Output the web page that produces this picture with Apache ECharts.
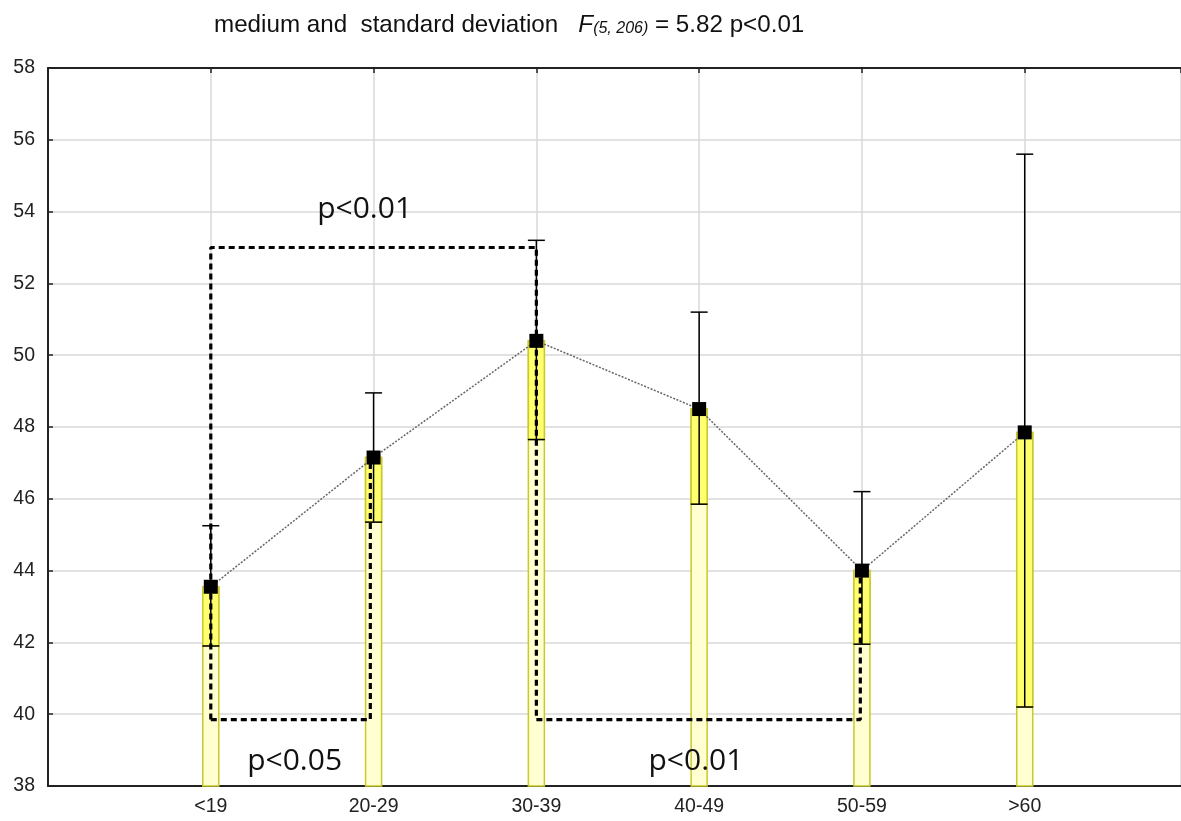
<!DOCTYPE html>
<html>
<head>
<meta charset="utf-8">
<script src="https://cdn.jsdelivr.net/npm/echarts@6/dist/echarts.min.js"></script>
<style>html,body{margin:0;padding:0;background:#fff}#c{width:1181px;height:821px}</style>
</head>
<body>
<div id="c"></div>
<script>
// ---- data ----
var categories = ['<19', '20-29', '30-39', '40-49', '50-59', '>60'];
var means = [43.55, 47.15, 50.4, 48.5, 44.0, 47.85];
var upper = [45.25, 48.95, 53.2, 51.2, 46.2, 55.6];
var lower = [41.9, 45.35, 47.65, 45.85, 41.95, 40.2];
var yTicks = [38, 40, 42, 44, 46, 48, 50, 52, 54, 56, 58];
// significance brackets: [categoryIndex (1-based), value] vertices
var bracketTop = [[1, 39.85], [1, 53.0], [3, 53.0], [3, 39.85]];
var bracketLeft = [[1, 39.85], [1.98, 39.85], [1.98, 47.15]];
var bracketRight = [[3, 39.85], [4.99, 39.85], [4.99, 44.0]];
var annotations = [
  {text: 'p<0.01', x: 1.945, y: 54.05},
  {text: 'p<0.05', x: 1.515, y: 38.67},
  {text: 'p<0.01', x: 3.98, y: 38.67}
];

var chart = echarts.init(document.getElementById('c'));
var BAR_W = 16;

var idx = categories.map(function (c, i) { return i + 1; });
var barData = idx.map(function (x, i) { return [x, means[i], lower[i], upper[i]]; });
var meanPts = idx.map(function (x, i) { return [x, means[i]]; });

function pathSeries(pts) {
  return {
    type: 'line', data: pts, symbol: 'none', silent: true, z: 4,
    lineStyle: {color: '#000', width: 3.2, type: [6, 4]}, animation: false
  };
}

var FONT = 'Liberation Sans, Arial';

chart.setOption({
  animation: false,
  title: {
    left: 209, top: 4,
    text: '{a|medium and  standard deviation   }{f|F}{s|(5, 206)}{a| = 5.82 p<0.01}',
    textStyle: {
      fontWeight: 'normal',
      rich: {
        a: {fontFamily: FONT, fontSize: 24.2, fontWeight: 'normal', color: '#111', verticalAlign: 'bottom', lineHeight: 28},
        f: {fontFamily: FONT, fontSize: 24.2, fontWeight: 'normal', fontStyle: 'italic', color: '#111', verticalAlign: 'bottom', lineHeight: 28},
        s: {fontFamily: FONT, fontSize: 16, fontWeight: 'normal', fontStyle: 'italic', color: '#111', verticalAlign: 'bottom', lineHeight: 24}
      }
    }
  },
  grid: {left: 48, top: 68, right: 0, height: 718, containLabel: false},
  xAxis: [{
    type: 'value', min: 0, max: 6.96, interval: 1,
    axisLine: {show: true, lineStyle: {color: '#222', width: 2}},
    axisTick: {show: true, inside: true, length: 5, lineStyle: {color: '#222', width: 1.5}},
    splitLine: {show: true, lineStyle: {color: '#d9d9d9', width: 1.5}},
    axisLabel: {
      color: '#222', fontFamily: FONT, fontSize: 19.5, margin: 11, showMaxLabel: false,
      formatter: function (v) { return (v >= 1 && v <= categories.length && v === Math.round(v)) ? categories[v - 1] : ''; }
    }
  }, {
    type: 'value', min: 0, max: 6.96, interval: 1, position: 'top',
    axisLine: {show: true, lineStyle: {color: '#222', width: 2}},
    axisTick: {show: true, inside: true, length: 5, lineStyle: {color: '#222', width: 1.5}},
    axisLabel: {show: false}, splitLine: {show: false}
  }],
  yAxis: {
    type: 'value', min: 38, max: 58, interval: 2,
    axisLine: {show: true, lineStyle: {color: '#222', width: 2}},
    axisTick: {show: true, inside: true, length: 5, lineStyle: {color: '#222', width: 1.5}},
    splitLine: {show: true, lineStyle: {color: '#d9d9d9', width: 1.5}},
    axisLabel: {color: '#222', fontFamily: FONT, fontSize: 19.5, margin: 13,
      formatter: function (v) { return yTicks.indexOf(v) >= 0 ? String(v) : ''; }}
  },
  series: [
    {
      type: 'custom', z: 1, data: barData, silent: true,
      renderItem: function (params, api) {
        var x = api.value(0);
        var top = api.coord([x, api.value(1)]);
        var base = api.coord([x, 38]);
        var lo = api.coord([x, api.value(2)]);
        return {type: 'group', children: [
          {type: 'rect', shape: {x: top[0] - BAR_W / 2, y: top[1], width: BAR_W, height: base[1] - top[1]},
            style: {fill: '#ffffd2', stroke: '#c9c92a', lineWidth: 1.5}},
          {type: 'rect', shape: {x: top[0] - BAR_W / 2, y: top[1], width: BAR_W, height: lo[1] - top[1]},
            style: {fill: '#ffff70', stroke: '#c9c92a', lineWidth: 1.5}}
        ]};
      }
    },
    {
      type: 'custom', z: 2, data: barData, silent: true,
      renderItem: function (params, api) {
        var x = api.value(0);
        var lo = api.coord([x, api.value(2)]);
        var hi = api.coord([x, api.value(3)]);
        var cw = 8.5;
        var st = {stroke: '#000', lineWidth: 1.5};
        return {type: 'group', children: [
          {type: 'line', shape: {x1: hi[0], y1: hi[1], x2: lo[0], y2: lo[1]}, style: st},
          {type: 'line', shape: {x1: hi[0] - cw, y1: hi[1], x2: hi[0] + cw, y2: hi[1]}, style: st},
          {type: 'line', shape: {x1: lo[0] - cw, y1: lo[1], x2: lo[0] + cw, y2: lo[1]}, style: st}
        ]};
      }
    },
    pathSeries(bracketTop),
    pathSeries(bracketLeft),
    pathSeries(bracketRight),
    {
      type: 'line', data: meanPts, z: 5, symbol: 'rect', symbolSize: 14,
      itemStyle: {color: '#000'},
      lineStyle: {color: '#666', width: 1.5, type: [2, 1.5]}
    },
    {
      type: 'custom', z: 6, silent: true,
      data: annotations.map(function (a) { return [a.x, a.y]; }),
      renderItem: function (params, api) {
        var p = api.coord([api.value(0), api.value(1)]);
        return {type: 'text', x: p[0], y: p[1], style: {
          text: annotations[params.dataIndex].text, fill: '#111',
          font: '30px "Open Sans", "Noto Sans", sans-serif', align: 'center', verticalAlign: 'middle'
        }};
      }
    }
  ]
});
</script>
</body>
</html>
